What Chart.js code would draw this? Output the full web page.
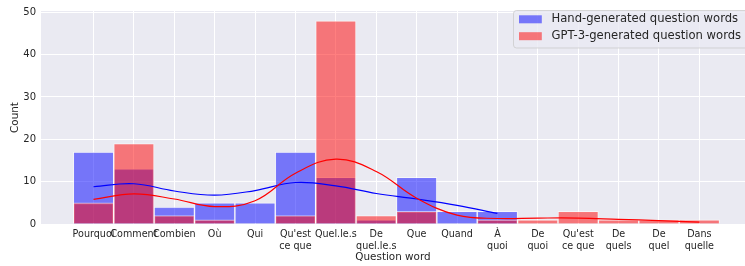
<!DOCTYPE html>
<html><head><meta charset="utf-8">
<script src="https://cdn.jsdelivr.net/npm/chart.js@4/dist/chart.umd.min.js"></script>
<style>html,body{margin:0;padding:0;background:#fff;overflow:hidden}#wrap{width:745px;height:266px;position:relative}canvas{display:block}</style>
</head><body><div id="wrap"><canvas id="c" width="745" height="266" style="width:745px;height:266px"></canvas></div>
<script>
// ---- data ----
const categories = ["Pourquoi","Comment","Combien","Où","Qui","Qu'est\nce que","Quel.le.s","De\nquel.le.s","Que","Quand","À\nquoi","De\nquoi","Qu'est\nce que","De\nquels","De\nquel","Dans\nquelle"];
const handCounts = [17,13,4,5,5,17,11,1,11,3,3,0,0,0,0,0];
const gptCounts  = [5,19,2,1,0,2,48,2,3,0,1,1,3,1,1,1];
const handKde = [8.8,9.5,7.8,6.8,7.9,9.8,9.0,7.2,5.9,4.4,2.5];
const gptKde  = [5.8,7.1,5.9,4.1,5.5,12.0,15.3,12.4,6.1,2.1,1.3,1.4,1.4,1.1,0.8,0.45];
const yTicks = [0,10,20,30,40,50];
const seriesNames = ["Hand-generated question words","GPT-3-generated question words"];
const xTitle = "Question word";
const yTitle = "Count";

const toBars = arr => arr.map((v,i)=>({x:i,y:v})).filter(p=>p.y>0);
const toLine = arr => arr.map((v,i)=>({x:i,y:v}));

const FONT = "'DejaVu Sans', sans-serif";
const TXT = '#262626';
const BLUE_FILL = 'rgba(0,0,255,0.5)';
const RED_FILL = 'rgba(255,0,0,0.5)';

const bgPlugin = {
  id:'bg',
  beforeDraw(chart){
    const {ctx, chartArea:a} = chart;
    ctx.save(); ctx.fillStyle='#eaeaf2';
    ctx.fillRect(a.left,a.top,a.right-a.left,a.bottom-a.top);
    ctx.restore();
  }
};
const legendPlugin = {
  id:'lgd',
  afterDraw(chart){
    const ctx = chart.ctx;
    ctx.save();
    const x=513.5,y=10.5,w=245,h=37.5,r=3;
    ctx.beginPath();
    ctx.moveTo(x+r,y); ctx.lineTo(x+w-r,y); ctx.quadraticCurveTo(x+w,y,x+w,y+r);
    ctx.lineTo(x+w,y+h-r); ctx.quadraticCurveTo(x+w,y+h,x+w-r,y+h);
    ctx.lineTo(x+r,y+h); ctx.quadraticCurveTo(x,y+h,x,y+h-r);
    ctx.lineTo(x,y+r); ctx.quadraticCurveTo(x,y,x+r,y); ctx.closePath();
    ctx.fillStyle='rgba(234,234,242,0.8)'; ctx.fill();
    ctx.strokeStyle='rgba(204,204,204,0.8)'; ctx.lineWidth=1; ctx.stroke();
    const rows=[19.3,36.2];
    const fills=[chart.data.datasets[0].backgroundColor, chart.data.datasets[1].backgroundColor];
    ctx.font = "11.6px " + FONT;
    ctx.textBaseline='middle'; ctx.textAlign='left';
    rows.forEach((cy,i)=>{
      ctx.fillStyle = fills[i];
      ctx.fillRect(519, cy-4, 22.8, 8);
      ctx.fillStyle = TXT;
      ctx.fillText(seriesNames[i], 551.5, cy);
    });
    ctx.restore();
  }
};

new Chart(document.getElementById('c'), {
  data:{
    datasets:[
      {type:'bar', label:seriesNames[0], data:toBars(handCounts), backgroundColor:BLUE_FILL,
       borderColor:'rgba(255,255,255,0.55)', borderWidth:1, barPercentage:1, categoryPercentage:1, grouped:false, order:3},
      {type:'bar', label:seriesNames[1], data:toBars(gptCounts), backgroundColor:RED_FILL,
       borderColor:'rgba(255,255,255,0.55)', borderWidth:1, barPercentage:1, categoryPercentage:1, grouped:false, order:2},
      {type:'line', label:'kde1', data:toLine(handKde), borderColor:'#0000ff', borderWidth:1.2, pointRadius:0, tension:0.4, fill:false, order:1},
      {type:'line', label:'kde2', data:toLine(gptKde), borderColor:'#ff0000', borderWidth:1.2, pointRadius:0, tension:0.4, fill:false, order:0}
    ]
  },
  options:{
    responsive:false, maintainAspectRatio:false, animation:false, devicePixelRatio:1,
    layout:{padding:{top:4,right:0,left:0,bottom:0}},
    plugins:{legend:{display:false}, tooltip:{enabled:false}},
    scales:{
      x:{type:'linear', min:-1.30, max:16.13, offset:false,
        afterBuildTicks(s){ s.ticks = categories.map((c,i)=>({value:i})); },
        afterFit(s){ s.height = 42; },
        grid:{color:'#ffffff', lineWidth:1, drawTicks:false, offset:false},
        border:{display:false},
        ticks:{padding:5, autoSkip:false, maxRotation:0, color:TXT, font:{family:FONT,size:9.6},
          callback:(v)=> { const c = categories[Math.round(v)]; return c ? c.split('\n') : ''; }},
        title:{display:true, text:xTitle, color:TXT, font:{family:FONT,size:10.4}, padding:{top:0,bottom:2}}
      },
      y:{type:'linear', min:0, max:50.3,
        afterBuildTicks(s){ s.ticks = yTicks.map(v=>({value:v})); },
        afterFit(s){ s.width = 41; },
        grid:{color:'#ffffff', lineWidth:1, drawTicks:false},
        border:{display:false},
        ticks:{padding:5, color:TXT, font:{family:FONT,size:10}},
        title:{display:true, text:yTitle, color:TXT, font:{family:FONT,size:10.4}, padding:{top:9.5,bottom:0}}
      }
    }
  },
  plugins:[bgPlugin, legendPlugin]
});
</script>
</body></html>
